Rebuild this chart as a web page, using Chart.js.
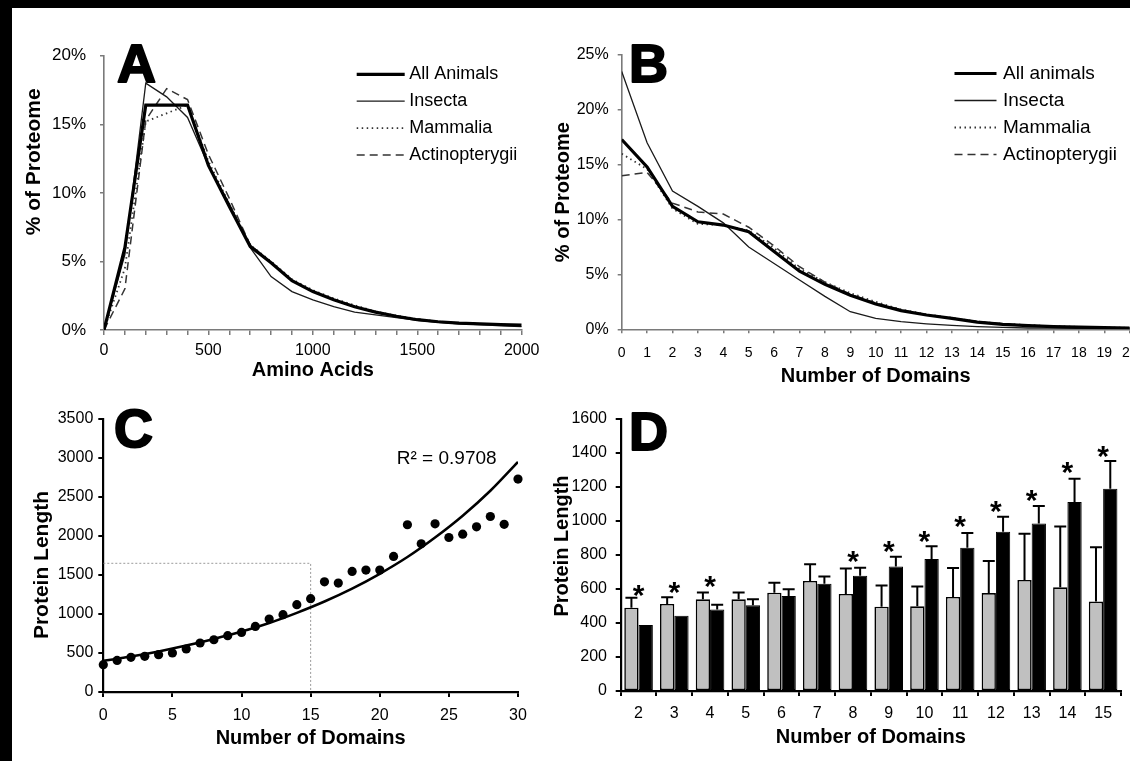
<!DOCTYPE html>
<html>
<head>
<meta charset="utf-8">
<title>Protein length and domains</title>
<script src="https://cdn.jsdelivr.net/npm/chart.js@4.4.1/dist/chart.umd.min.js"></script>
<style>
html, body { margin: 0; padding: 0; background: #fff; overflow: hidden; }
body { width: 1130px; height: 761px; position: relative; }
canvas { position: absolute; }
#frameTop { position: absolute; left: 0; top: 0; width: 1130px; height: 8px; background: #000; }
#frameLeft { position: absolute; left: 0; top: 0; width: 12px; height: 761px; background: #000; }
</style>
</head>
<body>
<canvas id="chartA" width="548" height="372" style="left:12px;top:8px"></canvas>
<canvas id="chartB" width="620" height="385" style="left:540px;top:8px"></canvas>
<canvas id="chartC" width="548" height="381" style="left:12px;top:380px"></canvas>
<canvas id="chartD" width="590" height="381" style="left:540px;top:380px"></canvas>
<div id="frameTop"></div>
<div id="frameLeft"></div>
<script>
// ---- panel A: protein length distribution (% of proteome)
const aminoAcids  = [0, 100, 200, 300, 400, 500, 600, 700, 800, 900, 1000, 1100, 1200, 1300, 1400, 1500, 1600, 1700, 1800, 1900, 2000];
const lenAll      = [0, 6.0, 16.4, 16.4, 16.4, 12.0, 9.0, 6.1, 4.9, 3.6, 2.8, 2.2, 1.7, 1.3, 1.0, 0.75, 0.6, 0.5, 0.45, 0.4, 0.35];
const lenInsecta  = [0, 5.5, 18.0, 17.0, 15.5, 12.0, 9.2, 6.0, 3.9, 2.8, 2.2, 1.7, 1.3, 1.1, 0.9, 0.7, 0.55, 0.45, 0.4, 0.3, 0.25];
const lenMammalia = [0, 4.5, 15.2, 15.8, 16.4, 12.3, 9.2, 6.2, 5.0, 3.7, 2.9, 2.3, 1.8, 1.35, 1.05, 0.8, 0.62, 0.5, 0.45, 0.4, 0.35];
const lenActino   = [0, 3.0, 15.3, 17.6, 16.8, 12.8, 9.6, 6.2, 4.9, 3.6, 2.8, 2.2, 1.7, 1.3, 1.0, 0.78, 0.6, 0.5, 0.45, 0.4, 0.35];

// ---- panel B: domain count distribution
const domainCount = [0, 1, 2, 3, 4, 5, 6, 7, 8, 9, 10, 11, 12, 13, 14, 15, 16, 17, 18, 19, 20];
const domAll      = [17.3, 14.8, 11.2, 9.8, 9.5, 8.9, 7.1, 5.3, 4.1, 3.1, 2.3, 1.7, 1.3, 1.0, 0.65, 0.45, 0.33, 0.25, 0.2, 0.15, 0.12];
const domInsecta  = [23.5, 17.0, 12.6, 11.2, 9.7, 7.5, 6.0, 4.5, 3.0, 1.6, 1.0, 0.7, 0.5, 0.35, 0.25, 0.18, 0.12, 0.1, 0.08, 0.06, 0.05];
const domMammalia = [16.0, 14.6, 11.0, 9.6, 9.5, 9.0, 7.4, 5.5, 4.3, 3.3, 2.5, 1.8, 1.35, 1.05, 0.7, 0.5, 0.38, 0.28, 0.22, 0.17, 0.13];
const domActino   = [14.0, 14.3, 11.5, 10.7, 10.5, 9.3, 7.6, 5.7, 4.3, 3.2, 2.4, 1.8, 1.3, 1.0, 0.7, 0.5, 0.37, 0.27, 0.2, 0.16, 0.12];

// ---- panel C: mean protein length vs number of domains
const cDomains = [0, 1, 2, 3, 4, 5, 6, 7, 8, 9, 10, 11, 12, 13, 14, 15, 16, 17, 18, 19, 20, 21, 22, 23, 24, 25, 26, 27, 28, 29, 30];
const cLength  = [350, 405, 444, 457, 478, 500, 551, 628, 670, 722, 764, 841, 935, 991, 1119, 1196, 1413, 1396, 1546, 1563, 1563, 1738, 2144, 1900, 2156, 1981, 2024, 2118, 2250, 2150, 2730];
const trendX   = [0, 2, 4, 6, 8, 10, 12, 14, 16, 18, 20, 22, 24, 26, 28, 30];
const trendY   = [400, 455, 520, 595, 680, 775, 885, 1015, 1160, 1325, 1515, 1730, 1980, 2260, 2580, 2950];
const guideX   = [0, 15, 15];
const guideY   = [1650, 1650, 0];

// ---- panel D: grouped bars with upper error bars
const dDomains  = ['2', '3', '4', '5', '6', '7', '8', '9', '10', '11', '12', '13', '14', '15'];
const grayBars  = [490, 512, 539, 539, 578, 647, 571, 496, 498, 553, 576, 653, 610, 526];
const grayErr   = [549, 551, 580, 580, 637, 745, 720, 620, 614, 723, 765, 925, 967, 845];
const blackBars = [388, 443, 480, 504, 559, 631, 678, 733, 776, 843, 937, 986, 1112, 1190];
const blackErr  = [null, null, 508, 539, 598, 673, 725, 790, 851, 929, 1025, 1088, 1249, 1353];
const starAt    = [590, 604, 641, null, null, null, 790, 849, 908, 996, 1080, 1149, 1310, 1408];

const fam = "'Liberation Sans', Arial, Helvetica, sans-serif";
Chart.defaults.font.family = fam;
Chart.defaults.color = '#000';
Chart.defaults.animation = false;
Chart.defaults.plugins.legend.display = false;
Chart.defaults.plugins.tooltip.enabled = false;

// rotated y axis title, placed freely
const sideTitle = {
  id: 'sideTitle',
  afterDraw(chart, args, o) {
    if (!o.text) return;
    const ctx = chart.ctx, a = chart.chartArea;
    ctx.save();
    ctx.translate(o.x, (a.top + a.bottom) / 2 + (o.shift || 0));
    ctx.rotate(-Math.PI / 2);
    ctx.font = o.font;
    ctx.fillStyle = '#000';
    ctx.textAlign = 'center';
    ctx.textBaseline = 'middle';
    ctx.fillText(o.text, 0, 0);
    ctx.restore();
  }
};

// panel letters and other free text
const notes = {
  id: 'notes',
  afterDraw(chart, args, o) {
    const ctx = chart.ctx;
    (o.items || []).forEach(function(n) {
      ctx.save();
      ctx.font = n.font;
      ctx.fillStyle = '#000';
      ctx.textAlign = n.align || 'left';
      ctx.textBaseline = 'alphabetic';
      ctx.fillText(n.text, n.x, n.y);
      if (n.stroke) {
        ctx.lineWidth = n.stroke;
        ctx.strokeStyle = '#000';
        ctx.lineJoin = 'round';
        ctx.strokeText(n.text, n.x, n.y);
      }
      ctx.restore();
    });
  }
};

// legend with line samples (dash + width taken from the datasets)
const lineLegend = {
  id: 'lineLegend',
  afterDraw(chart, args, o) {
    if (!o.font) return;
    const ctx = chart.ctx;
    chart.data.datasets.forEach(function(ds, i) {
      const y = o.y + i * o.step;
      ctx.save();
      ctx.strokeStyle = ds.borderColor;
      ctx.lineWidth = ds.borderWidth;
      ctx.setLineDash(ds.borderDash || []);
      ctx.beginPath();
      ctx.moveTo(o.x, y);
      ctx.lineTo(o.x + o.len, y);
      ctx.stroke();
      ctx.setLineDash([]);
      ctx.font = o.font;
      ctx.fillStyle = '#000';
      ctx.textBaseline = 'middle';
      ctx.fillText(ds.label, o.x + o.len + o.gap, y);
      ctx.restore();
    });
  }
};

const errorBars = {
  id: 'errorBars',
  afterDatasetsDraw(chart, args, o) {
    const ctx = chart.ctx, ys = chart.scales.y;
    chart.data.datasets.forEach(function(ds, i) {
      if (!ds.errorTop) return;
      chart.getDatasetMeta(i).data.forEach(function(bar, j) {
        const top = ds.errorTop[j];
        if (top == null) return;
        const yt = ys.getPixelForValue(top);
        ctx.save();
        ctx.strokeStyle = '#000';
        ctx.lineWidth = o.width;
        ctx.beginPath();
        ctx.moveTo(bar.x, bar.y);
        ctx.lineTo(bar.x, yt);
        ctx.moveTo(bar.x - o.cap / 2, yt);
        ctx.lineTo(bar.x + o.cap / 2, yt);
        ctx.stroke();
        ctx.restore();
      });
    });
  }
};

const starMarks = {
  id: 'starMarks',
  afterDatasetsDraw(chart, args, o) {
    const ctx = chart.ctx;
    chart.data.datasets.forEach(function(ds, i) {
      if (!ds.starMarks) return;
      chart.getDatasetMeta(i).data.forEach(function(pt, j) {
        if (ds.data[j] == null) return;
        ctx.save();
        ctx.font = o.font;
        ctx.fillStyle = '#000';
        ctx.textAlign = 'center';
        ctx.textBaseline = 'alphabetic';
        const m = ctx.measureText('*');
        const off = (m.actualBoundingBoxAscent - m.actualBoundingBoxDescent) / 2;
        ctx.fillText('*', pt.x, pt.y + off);
        ctx.restore();
      });
    });
  }
};

function pairs(xs, ys) {
  return xs.map(function(x, i) { return {x: x, y: ys[i]}; });
}

const lineStyles = [
  {borderColor: '#000', borderWidth: 3.2},
  {borderColor: '#1a1a1a', borderWidth: 1.3},
  {borderColor: '#333', borderWidth: 1.8, borderDash: [1.5, 3.5]},
  {borderColor: '#333', borderWidth: 1.5, borderDash: [8, 5]}
];

function lineSets(names, xs, series) {
  return series.map(function(ys, i) {
    return Object.assign({label: names[i], data: pairs(xs, ys), pointRadius: 0, fill: false, tension: 0}, lineStyles[i]);
  });
}

function xTitle(text, pb) {
  return {display: true, text: text, color: '#000', font: {size: 20, weight: 'bold', lineHeight: 1}, padding: {top: 0, bottom: pb}};
}

// ---------- A
new Chart(document.getElementById('chartA'), {
  type: 'line',
  data: {datasets: lineSets(['All Animals', 'Insecta', 'Mammalia', 'Actinopterygii'], aminoAcids, [lenAll, lenInsecta, lenMammalia, lenActino])},
  options: {
    responsive: false,
    layout: {padding: {left: 0, top: 47.7, right: 38.3, bottom: 0}},
    scales: {
      x: {
        type: 'linear', min: 0, max: 2000,
        ticks: {stepSize: 100, autoSkip: false, maxRotation: 0, padding: 6, font: {size: 16},
          callback: function(v) { return v % 500 === 0 ? String(v) : ''; }},
        grid: {drawOnChartArea: false, tickLength: 5, color: '#7a7a7a', lineWidth: 1.5},
        border: {color: '#7a7a7a', width: 1.6},
        title: xTitle('Amino Acids', 0),
        afterFit: function(s) { s.height = 50; }
      },
      y: {
        min: 0, max: 20,
        ticks: {stepSize: 5, padding: 14, font: {size: 17}, callback: function(v) { return v + '%'; }},
        grid: {drawOnChartArea: false, tickLength: 4, color: '#7a7a7a', lineWidth: 1.5},
        border: {color: '#7a7a7a', width: 1.6},
        afterFit: function(s) { s.width = 92; }
      }
    },
    plugins: {
      sideTitle: {text: '% of Proteome', x: 22, shift: -31, font: 'bold 21px ' + fam},
      notes: {items: [{text: 'A', x: 105, y: 74, font: 'bold 54px ' + fam, stroke: 2}]},
      lineLegend: {x: 344.7, y: 66.3, len: 48, gap: 4.5, step: 26.9, font: '18px ' + fam}
    }
  },
  plugins: [sideTitle, notes, lineLegend]
});

// ---------- B
new Chart(document.getElementById('chartB'), {
  type: 'line',
  data: {datasets: lineSets(['All animals', 'Insecta', 'Mammalia', 'Actinopterygii'], domainCount, [domAll, domInsecta, domMammalia, domActino])},
  options: {
    responsive: false,
    layout: {padding: {left: 0, top: 47, right: 30.3, bottom: 0}},
    scales: {
      x: {
        type: 'linear', min: 0, max: 20,
        ticks: {stepSize: 1, autoSkip: false, maxRotation: 0, padding: 11, font: {size: 14}},
        grid: {drawOnChartArea: false, tickLength: 4, color: '#7a7a7a', lineWidth: 1.5},
        border: {color: '#7a7a7a', width: 1.6},
        title: xTitle('Number of Domains', 7),
        afterFit: function(s) { s.height = 63.7; }
      },
      y: {
        min: 0, max: 25,
        ticks: {stepSize: 5, padding: 9, font: {size: 16}, callback: function(v) { return v + '%'; }},
        grid: {drawOnChartArea: false, tickLength: 4, color: '#7a7a7a', lineWidth: 1.5},
        border: {color: '#7a7a7a', width: 1.6},
        afterFit: function(s) { s.width = 81.7; }
      }
    },
    plugins: {
      sideTitle: {text: '% of Proteome', x: 23, shift: 0, font: 'bold 20px ' + fam},
      notes: {items: [{text: 'B', x: 89, y: 74, font: 'bold 54px ' + fam, stroke: 2}]},
      lineLegend: {x: 414.5, y: 65.5, len: 42, gap: 6.5, step: 27, font: '19px ' + fam}
    }
  },
  plugins: [sideTitle, notes, lineLegend]
});

// ---------- C
new Chart(document.getElementById('chartC'), {
  type: 'scatter',
  data: {
    datasets: [
      {label: 'Proteins', data: pairs(cDomains, cLength), pointRadius: 4.6, pointBackgroundColor: '#000', pointBorderWidth: 0, clip: false},
      {label: 'Trend', data: pairs(trendX, trendY), showLine: true, pointRadius: 0, borderColor: '#000', borderWidth: 2.5, cubicInterpolationMode: 'monotone'},
      {label: 'Guide', data: pairs(guideX, guideY), showLine: true, pointRadius: 0, borderColor: '#9a9a9a', borderWidth: 1, borderDash: [2, 2]}
    ]
  },
  options: {
    responsive: false,
    layout: {padding: {left: 0, top: 39, right: 42, bottom: 0}},
    scales: {
      x: {
        type: 'linear', min: 0, max: 30,
        ticks: {stepSize: 5, maxRotation: 0, padding: 9.4, font: {size: 16}},
        grid: {drawOnChartArea: false, tickLength: 5, color: '#000', lineWidth: 2},
        border: {color: '#000', width: 2.2},
        title: xTitle('Number of Domains', 13),
        afterFit: function(s) { s.height = 69; }
      },
      y: {
        min: 0, max: 3500,
        ticks: {stepSize: 500, padding: 5, font: {size: 16}, callback: function(v) { return String(v); }},
        grid: {drawOnChartArea: false, tickLength: 5, color: '#000', lineWidth: 2},
        border: {color: '#000', width: 2.2},
        afterFit: function(s) { s.width = 91.3; }
      }
    },
    plugins: {
      sideTitle: {text: 'Protein Length', x: 30, shift: 9.5, font: 'bold 21px ' + fam},
      notes: {items: [
        {text: 'C', x: 102, y: 67, font: 'bold 54px ' + fam, stroke: 2},
        {text: 'R\u00b2 = 0.9708', x: 434.7, y: 84, align: 'center', font: '19px ' + fam}
      ]}
    }
  },
  plugins: [sideTitle, notes]
});

// ---------- D
new Chart(document.getElementById('chartD'), {
  type: 'bar',
  data: {
    labels: dDomains,
    datasets: [
      {label: 'Gray', data: grayBars, errorTop: grayErr, backgroundColor: '#c0c0c0', borderColor: '#000', borderWidth: 1.6, borderSkipped: false, categoryPercentage: 0.8, barPercentage: 1.0},
      {label: 'Black', data: blackBars, errorTop: blackErr, backgroundColor: '#000', borderColor: '#000', borderWidth: 1, borderSkipped: false, categoryPercentage: 0.8, barPercentage: 1.0},
      {type: 'line', label: 'Significant', data: starAt, starMarks: true, showLine: false, pointRadius: 0}
    ]
  },
  options: {
    responsive: false,
    layout: {padding: {left: 0, top: 39, right: 9, bottom: 0}},
    scales: {
      x: {
        ticks: {maxRotation: 0, padding: 7.7, font: {size: 16}},
        grid: {drawOnChartArea: false, tickLength: 5, color: '#000', lineWidth: 2},
        border: {color: '#000', width: 2.2},
        title: xTitle('Number of Domains', 14),
        afterFit: function(s) { s.height = 70; }
      },
      y: {
        min: 0, max: 1600,
        ticks: {stepSize: 200, padding: 8.7, font: {size: 16}, callback: function(v) { return String(v); }},
        grid: {drawOnChartArea: false, tickLength: 5, color: '#000', lineWidth: 2},
        border: {color: '#000', width: 2.2},
        afterFit: function(s) { s.width = 80.7; }
      }
    },
    plugins: {
      sideTitle: {text: 'Protein Length', x: 22, shift: -9, font: 'bold 20px ' + fam},
      notes: {items: [{text: 'D', x: 89, y: 70, font: 'bold 54px ' + fam, stroke: 2}]},
      errorBars: {width: 2, cap: 12},
      starMarks: {font: 'bold 30px ' + fam}
    }
  },
  plugins: [sideTitle, notes, errorBars, starMarks]
});
</script>
</body>
</html>
